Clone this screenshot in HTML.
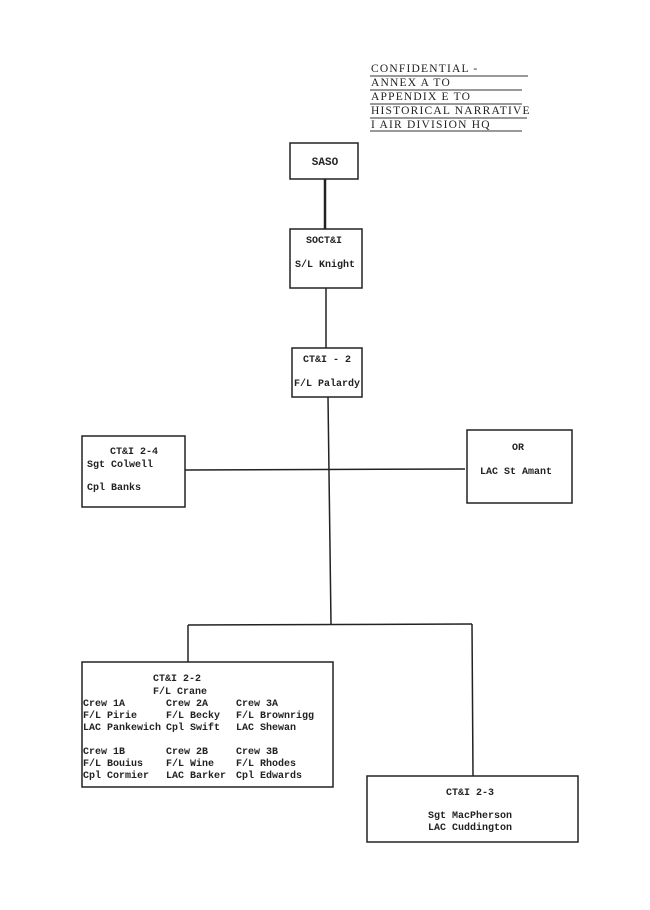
<!DOCTYPE html>
<html><head><meta charset="utf-8"><style>
html,body{margin:0;padding:0;background:#fff;}
svg{display:block;}
.m{font-family:"Liberation Mono",monospace;font-size:10px;font-weight:bold;fill:#222;}
.s{font-family:"Liberation Serif",serif;font-size:11.5px;fill:#222;letter-spacing:1.2px;}
</style></head><body>
<svg width="650" height="910" viewBox="0 0 650 910" xmlns="http://www.w3.org/2000/svg">
<g class="s">
<text x="371" y="72">CONFIDENTIAL   -</text>
<text x="371" y="86">ANNEX A TO</text>
<text x="371" y="100">APPENDIX E TO</text>
<text x="371" y="114">HISTORICAL NARRATIVE</text>
<text x="371" y="128">I AIR DIVISION HQ</text>
</g>
<g stroke="#333" stroke-width="1">
<line x1="370" y1="76" x2="528" y2="76"/>
<line x1="370" y1="90" x2="522" y2="90"/>
<line x1="370" y1="104" x2="522" y2="104"/>
<line x1="370" y1="118" x2="527" y2="118"/>
<line x1="370" y1="131" x2="522" y2="131"/>
</g>
<g fill="none" stroke="#222" stroke-width="1.5">
<rect x="290" y="143" width="68" height="36"/>
<rect x="290" y="229" width="72" height="59"/>
<rect x="292" y="348" width="70" height="49"/>
<rect x="82" y="436" width="103" height="71"/>
<rect x="467" y="430" width="105" height="73"/>
<rect x="82" y="662" width="251" height="125"/>
<rect x="367" y="776" width="211" height="66"/>
<line x1="325" y1="179" x2="325" y2="229" stroke-width="2.5"/>
<line x1="326" y1="288" x2="326" y2="348"/>
<line x1="328" y1="397" x2="331" y2="624"/>
<line x1="185" y1="470" x2="465" y2="469"/>
<line x1="188" y1="625" x2="472" y2="624"/>
<line x1="188" y1="625" x2="188" y2="662"/>
<line x1="472" y1="624" x2="473" y2="776"/>
</g>
<g class="m">
<text x="325" y="165" text-anchor="middle" style="font-size:11px">SASO</text>
<text x="324" y="243" text-anchor="middle">SOCT&amp;I</text>
<text x="325" y="267" text-anchor="middle">S/L Knight</text>
<text x="327" y="362" text-anchor="middle">CT&amp;I - 2</text>
<text x="327" y="386" text-anchor="middle">F/L Palardy</text>
<text x="110" y="454">CT&amp;I 2-4</text>
<text x="87" y="467">Sgt Colwell</text>
<text x="87" y="490">Cpl Banks</text>
<text x="518" y="450" text-anchor="middle">OR</text>
<text x="516" y="474" text-anchor="middle">LAC St Amant</text>
<text x="153" y="681">CT&amp;I 2-2</text>
<text x="153" y="694">F/L Crane</text>
<text x="83" y="706">Crew 1A</text>
<text x="83" y="718">F/L Pirie</text>
<text x="83" y="730">LAC Pankewich</text>
<text x="166" y="706">Crew 2A</text>
<text x="166" y="718">F/L Becky</text>
<text x="166" y="730">Cpl Swift</text>
<text x="236" y="706">Crew 3A</text>
<text x="236" y="718">F/L Brownrigg</text>
<text x="236" y="730">LAC Shewan</text>
<text x="83" y="754">Crew 1B</text>
<text x="83" y="766">F/L Bouius</text>
<text x="83" y="778">Cpl Cormier</text>
<text x="166" y="754">Crew 2B</text>
<text x="166" y="766">F/L Wine</text>
<text x="166" y="778">LAC Barker</text>
<text x="236" y="754">Crew 3B</text>
<text x="236" y="766">F/L Rhodes</text>
<text x="236" y="778">Cpl Edwards</text>
<text x="470" y="795" text-anchor="middle">CT&amp;I 2-3</text>
<text x="470" y="818" text-anchor="middle">Sgt MacPherson</text>
<text x="470" y="830" text-anchor="middle">LAC Cuddington</text>
</g>
</svg>
</body></html>
